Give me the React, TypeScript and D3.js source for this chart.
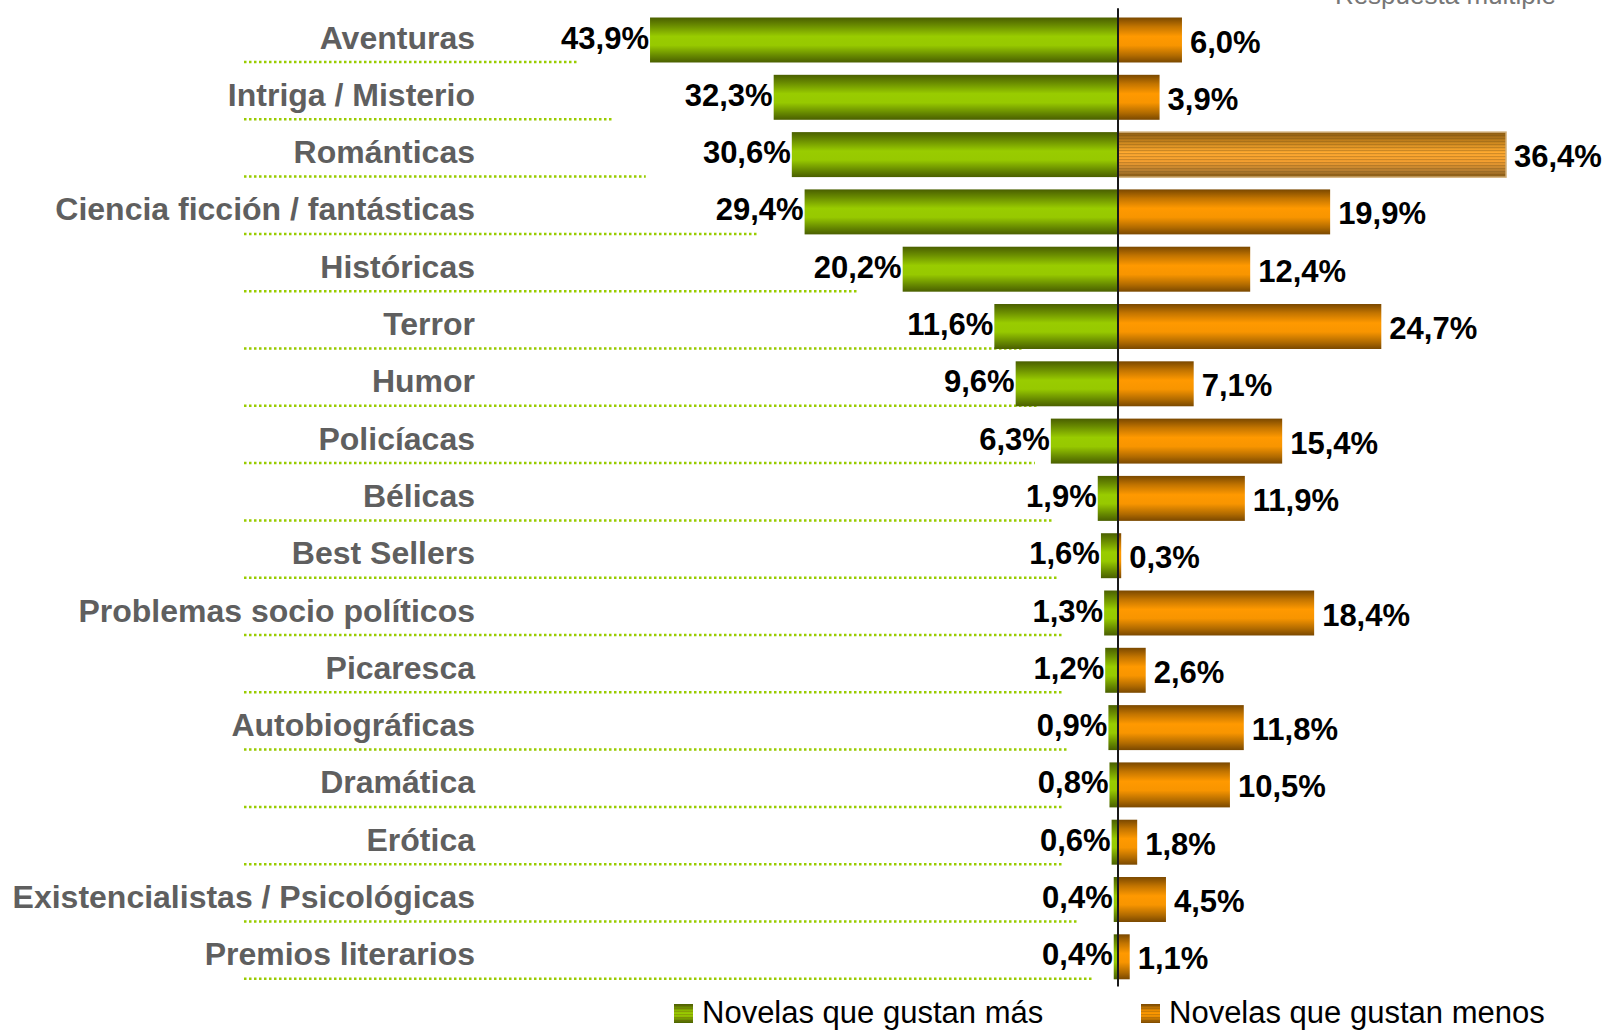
import React from "react";
import * as d3 from "d3";

const categories = [
  "Aventuras",
  "Intriga / Misterio",
  "Románticas",
  "Ciencia ficción / fantásticas",
  "Históricas",
  "Terror",
  "Humor",
  "Policíacas",
  "Bélicas",
  "Best Sellers",
  "Problemas socio políticos",
  "Picaresca",
  "Autobiográficas",
  "Dramática",
  "Erótica",
  "Existencialistas / Psicológicas",
  "Premios literarios",
];
const gustanMas = [43.9, 32.3, 30.6, 29.4, 20.2, 11.6, 9.6, 6.3, 1.9, 1.6, 1.3, 1.2, 0.9, 0.8, 0.6, 0.4, 0.4];
const gustanMenos = [6.0, 3.9, 36.4, 19.9, 12.4, 24.7, 7.1, 15.4, 11.9, 0.3, 18.4, 2.6, 11.8, 10.5, 1.8, 4.5, 1.1];
// dotted leader lines under each label, extending to this value on the left side
const leaderEnds = [50.6, 47.4, 44.3, 33.9, 24.4, 9.0, 7.5, 7.8, 6.0, 5.7, 5.25, 5.25, 4.8, 5.25, 5.25, 3.75, 2.45];
const seriesNames = ["Novelas que gustan más", "Novelas que gustan menos"];
const subtitle = "Respuesta múltiple";

const fmt = (v: number) => v.toFixed(1).replace(".", ",") + "%";

export default function App() {
  const W = 1608;
  const H = 1030;
  const x = d3.scaleLinear().domain([-50, 50]).range([585, 1651]);
  const y = d3
    .scaleBand<string>()
    .domain(categories)
    .range([11.35, 985.45])
    .paddingInner(0.215)
    .paddingOuter(0.1075);
  const bw = y.bandwidth();
  const x0 = x(0);
  const font = "'Liberation Sans', Arial, Helvetica, sans-serif";
  const leaderStart = 244;

  return (
    <svg
      width={W}
      height={H}
      style={{ position: "absolute", left: 0, top: 0, background: "#fff" }}
      fontFamily={font}
    >
      <defs>
        <linearGradient id="gGreen" x1="0" y1="0" x2="0" y2="1">
          <stop offset="0" stopColor="#4a5f00" />
          <stop offset="0.18" stopColor="#6a8c00" />
          <stop offset="0.42" stopColor="#99cc00" />
          <stop offset="0.62" stopColor="#97c900" />
          <stop offset="0.85" stopColor="#668800" />
          <stop offset="1" stopColor="#4a5f00" />
        </linearGradient>
        <linearGradient id="gOrange" x1="0" y1="0" x2="0" y2="1">
          <stop offset="0" stopColor="#7a4800" />
          <stop offset="0.2" stopColor="#c27400" />
          <stop offset="0.42" stopColor="#ff9900" />
          <stop offset="0.62" stopColor="#f89500" />
          <stop offset="0.85" stopColor="#b06a00" />
          <stop offset="1" stopColor="#7a4800" />
        </linearGradient>
        <linearGradient id="gOrangeLight" x1="0" y1="0" x2="0" y2="1">
          <stop offset="0" stopColor="#8a5a10" />
          <stop offset="0.25" stopColor="#d08a20" />
          <stop offset="0.45" stopColor="#ffaa30" />
          <stop offset="0.65" stopColor="#f5a030" />
          <stop offset="0.88" stopColor="#b07a30" />
          <stop offset="1" stopColor="#8a5a10" />
        </linearGradient>
        <pattern id="stripes" width="8" height="3" patternUnits="userSpaceOnUse">
          <rect width="8" height="1.2" fill="#6a4a10" opacity="0.3" />
        </pattern>
      </defs>

      <text x={1556} y={4} textAnchor="end" fontSize={26} fill="#777">
        {subtitle}
      </text>

      {categories.map((c, i) => {
        const cy = (y(c) as number) + bw / 2;
        return (
          <g key={c}>
            <line
              x1={leaderStart}
              x2={x(-leaderEnds[i])}
              y1={cy + 22}
              y2={cy + 22}
              stroke="#99cc00"
              strokeWidth={2.5}
              strokeDasharray="2.5 2.5"
            />
            <text
              x={475}
              y={cy - 2.5}
              textAnchor="end"
              dominantBaseline="central"
              fontSize={32}
              fontWeight="bold"
              fill="#5f5f5f"
            >
              {c}
            </text>
          </g>
        );
      })}

      {categories.map((c, i) => {
        const top = y(c) as number;
        const cy = top + bw / 2;
        const gl = x(-gustanMas[i]);
        const gr = x(gustanMenos[i]);
        const striped = i === 2;
        return (
          <g key={"b" + c}>
            <rect x={gl} y={top} width={x0 - gl} height={bw} fill="url(#gGreen)" />
            <rect
              x={x0}
              y={top}
              width={gr - x0}
              height={bw}
              fill={striped ? "url(#gOrangeLight)" : "url(#gOrange)"}
            />
            {striped && (
              <rect
                x={x0}
                y={top}
                width={gr - x0}
                height={bw}
                fill="url(#stripes)"
                stroke="#d2b07a"
                strokeWidth={1.5}
              />
            )}
            <text
              x={gl - 1}
              y={cy - 2}
              textAnchor="end"
              dominantBaseline="central"
              fontSize={31}
              fontWeight="bold"
              fill="#000"
            >
              {fmt(gustanMas[i])}
            </text>
            <text
              x={gr + 8}
              y={cy + 2}
              textAnchor="start"
              dominantBaseline="central"
              fontSize={31}
              fontWeight="bold"
              fill="#000"
            >
              {fmt(gustanMenos[i])}
            </text>
          </g>
        );
      })}

      <line
        x1={x0}
        x2={x0}
        y1={y.range()[0] - 3}
        y2={y.range()[1] + 1}
        stroke="#1a1a1a"
        strokeWidth={2}
      />

      <g>
        <rect x={674} y={1004} width={19} height={19} fill="url(#gGreen)" />
        <rect x={674} y={1004} width={19} height={19} fill="url(#stripes)" />
        <text x={702} y={1023} fontSize={31} fill="#000">
          {seriesNames[0]}
        </text>
        <rect x={1141} y={1004} width={19} height={19} fill="url(#gOrange)" />
        <rect x={1141} y={1004} width={19} height={19} fill="url(#stripes)" />
        <text x={1169} y={1023} fontSize={31} fill="#000">
          {seriesNames[1]}
        </text>
      </g>
    </svg>
  );
}
